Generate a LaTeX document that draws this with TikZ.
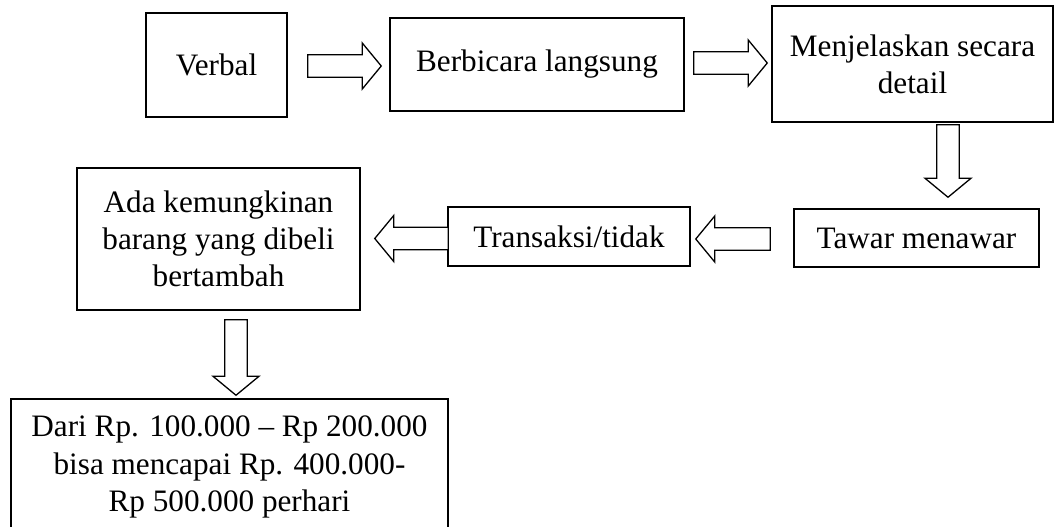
\documentclass[tikz,border=0pt]{standalone}
\usepackage{fontspec}
\setmainfont{Liberation Serif}
\usetikzlibrary{calc}

\begin{document}
\begin{tikzpicture}[
  x=0.5pt, y=-0.5pt,
  box/.style={rectangle, draw, line width=0.75pt, align=center, inner sep=0pt, font=\fontsize{15.6}{18.6}\selectfont},
  blockarr/.style={draw, line width=0.65pt, fill=white, line join=miter,
    to path={let \p1=(\tikztostart), \p2=(\tikztotarget) in
      ($(\p1)!5.6pt!90:(\p2)$) -- ($(\p2)!9.5pt!(\p1)!5.6pt!-90:(\p1)$)
      -- ($(\p2)!9.5pt!(\p1)!11.5pt!-90:(\p1)$) -- (\p2)
      -- ($(\p2)!9.5pt!(\p1)!11.5pt!90:(\p1)$) -- ($(\p2)!9.5pt!(\p1)!5.6pt!90:(\p1)$)
      -- ($(\p1)!5.6pt!-90:(\p2)$) -- cycle}}
]
\useasboundingbox[fill=white] (0,0) rectangle (1062,526);

\node[box, minimum width=70.5pt, minimum height=52pt] (verbal) at (216.5,65) {Verbal};
\node[box, minimum width=147pt, minimum height=46.5pt] (bicara) at (537,64.5) {Berbicara langsung};
\node[box, minimum width=140.5pt, minimum height=58pt] (jelas) at (912.5,64) {Menjelaskan secara\\detail};
\node[box, minimum width=122.5pt, minimum height=29pt] (tawar) at (916.5,238) {Tawar menawar};
\node[box, minimum width=121pt, minimum height=29.5pt] (transaksi) at (569,236.5) {Transaksi/tidak};
\node[box, minimum width=141.5pt, minimum height=71pt] (tambah) at (218.5,239) {Ada kemungkinan\\barang yang dibeli\\bertambah};
\node[box, minimum width=218.5pt, minimum height=68pt] (hasil) at (229.5,467) {Dari Rp. 100.000 -- Rp 200.000\\bisa mencapai Rp. 400.000-\\Rp 500.000 perhari};

\draw[blockarr] ($(verbal.east)+(20,1)$) to ($(bicara.west)+(-8,1.5)$);
\draw[blockarr] ($(bicara.east)+(9,-1.5)$) to ($(jelas.west)+(-4,-1)$);
\draw[blockarr] ($(jelas.south)+(35.5,2)$) to ($(tawar.north)+(31.5,-11)$);
\draw[blockarr] ($(tawar.west)+(-23,1)$) to ($(transaksi.east)+(5,2.5)$);
\draw[blockarr] ($(transaksi.west)+(1,2)$) to ($(tambah.east)+(14,-0.5)$);
\draw[blockarr] ($(tambah.south)+(17.5,9)$) to ($(hasil.north)+(6.5,-3)$);
\end{tikzpicture}
\end{document}
